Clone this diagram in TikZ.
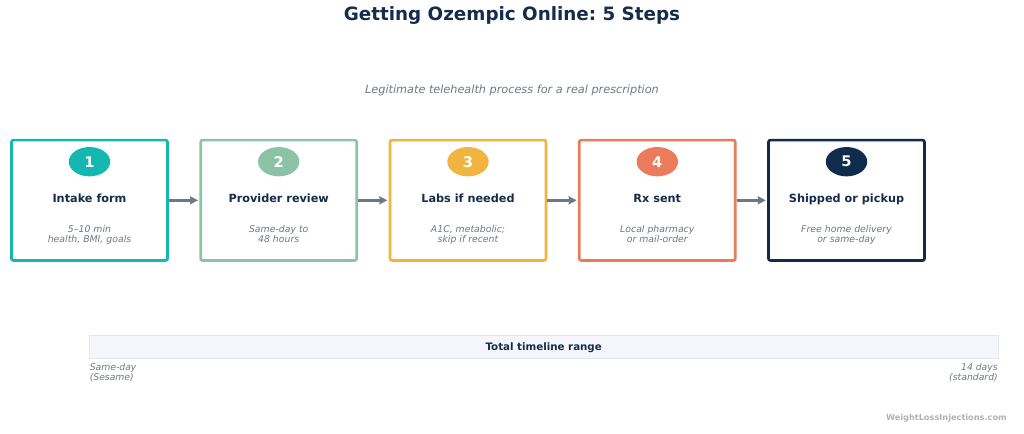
\documentclass[tikz,border=0pt]{standalone}
\usepackage{fontspec}
\setmainfont{DejaVu Sans}
\usetikzlibrary{arrows.meta,shapes.geometric}
\frenchspacing
\definecolor{navy}{HTML}{152C4A}
\definecolor{slate}{HTML}{6F7787}
\definecolor{teal}{HTML}{14B8B0}
\definecolor{sage}{HTML}{8CC2A6}
\definecolor{amber}{HTML}{F2B441}
\definecolor{coral}{HTML}{EB7B5C}
\definecolor{deep}{HTML}{0F2C4C}
\definecolor{band}{HTML}{F4F6FB}
\definecolor{bandline}{HTML}{E3E6EC}
\tikzset{
	stepbox/.style={draw=#1, line width=2pt, rounded corners=1.5pt, fill=white, minimum width=117pt, minimum height=90.3pt, inner sep=0pt},
	stepnum/.style={ellipse, fill=#1, minimum width=31pt, minimum height=22pt, inner sep=0pt, text=white, font=\bfseries\fontsize{11}{13}\selectfont},
	steptitle/.style={anchor=base, text=navy, font=\bfseries\fontsize{8.45}{10}\selectfont},
	stepnote/.style={text=slate, align=center, font=\itshape\fontsize{7}{7.5}\selectfont},
	steparrow/.style={draw=slate, line width=1.9pt, -{Stealth[length=6pt,width=6pt,inset=0.5pt]}, shorten >=1pt},
}
\begin{document}
\begin{tikzpicture}[x=0.75pt,y=-0.75pt]
	\useasboundingbox (0,0) rectangle (1024,433);

	% heading
	\node[text=navy, font=\bfseries\fontsize{13.75}{16}\selectfont] (heading) at (512,16) {Getting Ozempic Online: 5 Steps};
	\node[text=slate, font=\itshape\fontsize{8.45}{10}\selectfont] (subheading) at (512,90.5) {Legitimate telehealth process for a real prescription};

	% steps
	\foreach \i/\x/\col/\ttl/\note in {
		1/89.5/teal/Intake form/{5--10 min\\health, BMI, goals},
		2/278.7/sage/Provider review/{Same-day to\\48 hours},
		3/468/amber/Labs if needed/{A1C, metabolic;\\skip if recent},
		4/657.3/coral/Rx sent/{Local pharmacy\\or mail-order},
		5/846.5/deep/Shipped or pickup/{Free home delivery\\or same-day}}
	{
		\node[stepbox=\col] (box\i) at (\x,200.3) {};
		\node[stepnum=\col] (num\i) at (\x,161.7) {\i};
		\node[steptitle] (title\i) at (\x,202) {\ttl};
		\node[stepnote, anchor=base] (note\i) at (\x,242.2) {\note};
	}

	% arrows
	\foreach \i/\j in {1/2,2/3,3/4,4/5}
		\draw[steparrow] (box\i) -- (box\j);

	% timeline
	\node[draw=bandline, fill=band, line width=0.6pt, minimum width=681.5pt, minimum height=17pt, inner sep=0pt] (range) at (543.7,347) {};
	\node[anchor=base, text=navy, font=\bfseries\fontsize{7.7}{9}\selectfont] (rangelabel) at (543.7,350.5) {Total timeline range};
	\node[text=slate, align=left, anchor=north west, inner sep=0pt, font=\itshape\fontsize{6.95}{7.5}\selectfont] (rangestart) at (89.5,363.5) {Same-day\\(Sesame)};
	\node[text=slate, align=right, anchor=north east, inner sep=0pt, font=\itshape\fontsize{6.95}{7.5}\selectfont] (rangeend) at (998,363.5) {14 days\\(standard)};

	% source
	\node[text=black!30, anchor=east, inner sep=0pt, font=\bfseries\fontsize{6.15}{7}\selectfont] (source) at (1007,418) {WeightLossInjections.com};
\end{tikzpicture}
\end{document}
